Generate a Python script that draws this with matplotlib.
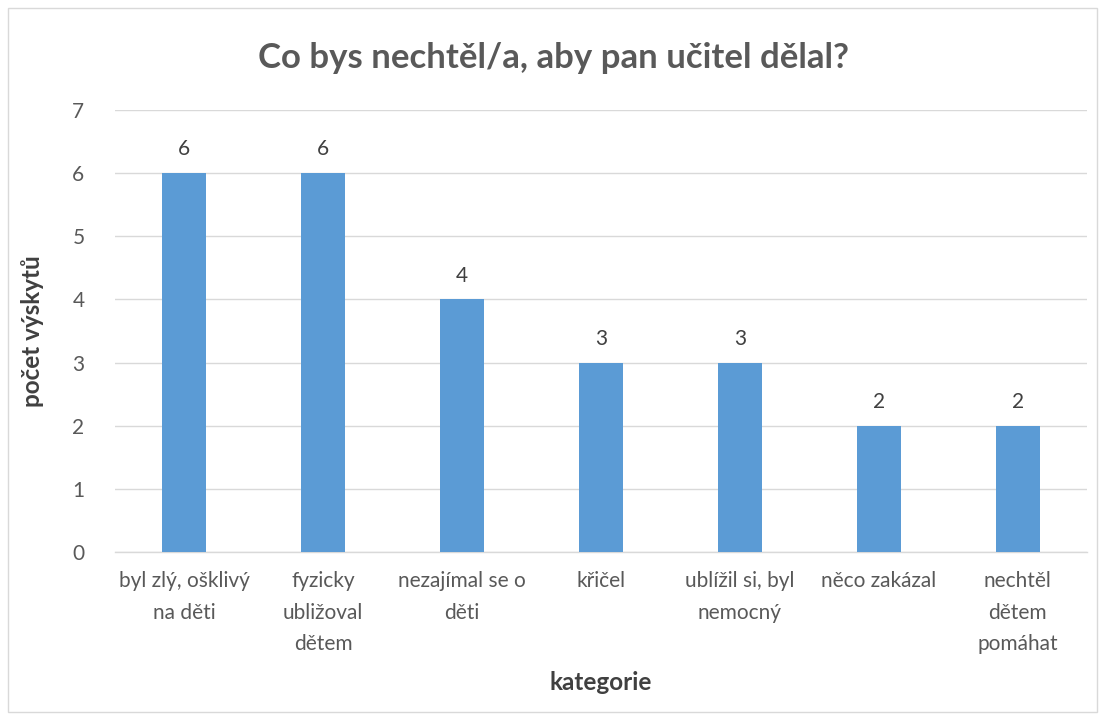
import matplotlib
matplotlib.use("Agg")
import matplotlib.pyplot as plt
from matplotlib.patches import Rectangle

categories = ["byl zlý, ošklivý\nna děti", "fyzicky\nubližoval\ndětem", "nezajímal se o\nděti",
              "křičel", "ublížil si, byl\nnemocný", "něco zakázal", "nechtěl\ndětem\npomáhat"]
values = [6, 6, 4, 3, 3, 2, 2]
yticks = [0, 1, 2, 3, 4, 5, 6, 7]
title = "Co bys nechtěl/a, aby pan učitel dělal?"
xlabel = "kategorie"
ylabel = "počet výskytů"

plt.rcParams['font.family'] = ['Lato', 'DejaVu Sans']

fig = plt.figure(figsize=(11.06, 7.2), dpi=100)
fig.patches.append(Rectangle((8/1106, 8/720), 1089/1106, 704/720, transform=fig.transFigure,
                             fill=False, edgecolor='#D9D9D9', linewidth=1))
ax = fig.add_axes([115/1106, 1-552/720, 972/1106, 442/720])

x = list(range(len(categories)))
bars = ax.bar(x, values, width=0.317, color='#5B9BD5', zorder=3)
for xi, v in zip(x, values):
    ax.text(xi, v + 0.22, str(v), ha='center', va='bottom', fontsize=15, color='#404040')

ax.set_xlim(-0.5, len(categories) - 0.5)
ax.set_ylim(0, 7)
ax.set_yticks(yticks)
ax.set_yticklabels([str(t) for t in yticks])
ax.grid(axis='y', color='#D9D9D9', linewidth=1, zorder=0)
ax.set_xticks(x)
ax.set_xticklabels(categories, fontsize=15, color='#595959', linespacing=1.7, va='top')
ax.tick_params(axis='x', length=0, pad=14)
ax.tick_params(axis='y', length=0, pad=22, labelsize=15, labelcolor='#595959')
for s in ['top', 'right', 'left']:
    ax.spines[s].set_visible(False)
ax.spines['bottom'].set_color('#D9D9D9')
ax.spines['bottom'].set_linewidth(1)

fig.text(0.5, 1 - 58/720, title, ha='center', va='center', fontsize=25, fontweight='bold', color='#595959')
fig.text((115 + 1087) / 2 / 1106, 1 - 683/720, xlabel, ha='center', va='center', fontsize=17.5, fontweight='bold', color='#404040')
fig.text(33/1106, 1 - 331/720, ylabel, ha='center', va='center', rotation=90, fontsize=17.5, fontweight='bold', color='#404040')

fig.savefig("out.png", dpi=100)
